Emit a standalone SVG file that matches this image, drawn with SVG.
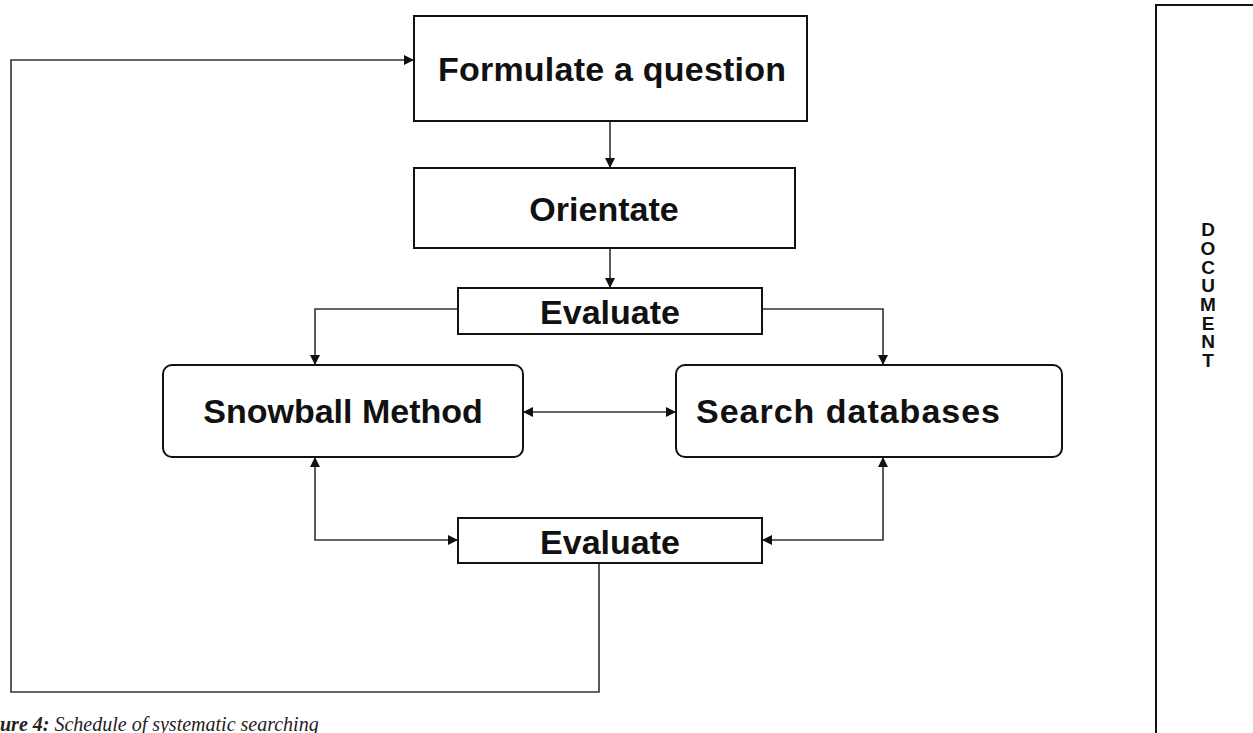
<svg xmlns="http://www.w3.org/2000/svg" width="1253" height="733" viewBox="0 0 1253 733">
<style>
.box{fill:#fff;stroke:#111;stroke-width:2}
.lbl{font-family:"Liberation Sans",Arial,sans-serif;font-weight:bold;font-size:34px;fill:#111;text-anchor:middle}
.doc{font-family:"Liberation Sans",Arial,sans-serif;font-weight:bold;font-size:19px;fill:#111;text-anchor:middle}
.con{fill:none;stroke:#333;stroke-width:1.6}
.cap{font-family:"Liberation Serif","Times New Roman",serif;font-style:italic;font-size:20px;fill:#222}
</style>
<defs>
<marker id="ah" viewBox="0 0 10 10" refX="10" refY="5" markerWidth="10" markerHeight="10" markerUnits="userSpaceOnUse" orient="auto-start-reverse">
<path d="M0,0 L10,5 L0,10 z" fill="#111"/>
</marker>
</defs>
<rect width="1253" height="733" fill="#fff"/>

<g id="connectors">
<line class="con" x1="610" y1="121" x2="610" y2="168" marker-end="url(#ah)"/>
<line class="con" x1="610" y1="248" x2="610" y2="288" marker-end="url(#ah)"/>
<polyline class="con" points="458,309 315,309 315,365" marker-end="url(#ah)"/>
<polyline class="con" points="762,309 883,309 883,365" marker-end="url(#ah)"/>
<line class="con" x1="523" y1="412" x2="676" y2="412" marker-start="url(#ah)" marker-end="url(#ah)"/>
<polyline class="con" points="315,457 315,540 458,540" marker-start="url(#ah)" marker-end="url(#ah)"/>
<polyline class="con" points="883,457 883,540 762,540" marker-start="url(#ah)" marker-end="url(#ah)"/>
<polyline class="con" points="599,563 599,692 11,692 11,60 414,60" marker-end="url(#ah)"/>
</g>

<g id="formulate">
<rect class="box" x="414" y="16" width="393" height="105"/>
<text class="lbl" x="612" y="81" textLength="348" lengthAdjust="spacing">Formulate a question</text>
</g>
<g id="orientate">
<rect class="box" x="414" y="168" width="381" height="80"/>
<text class="lbl" x="604" y="221">Orientate</text>
</g>
<g id="evaluate1">
<rect class="box" x="458" y="288" width="304" height="46"/>
<text class="lbl" x="610" y="324">Evaluate</text>
</g>
<g id="snowball">
<rect class="box" x="163" y="365" width="360" height="92" rx="9" ry="9"/>
<text class="lbl" x="343" y="423">Snowball Method</text>
</g>
<g id="search">
<rect class="box" x="676" y="365" width="386" height="92" rx="9" ry="9"/>
<text class="lbl" x="848" y="423" textLength="304" lengthAdjust="spacing">Search databases</text>
</g>
<g id="evaluate2">
<rect class="box" x="458" y="518" width="304" height="45"/>
<text class="lbl" x="610" y="554">Evaluate</text>
</g>
<g id="document">
<path d="M1156,740 L1156,5 L1260,5" fill="none" stroke="#111" stroke-width="2"/>
<text class="doc" x="1208" y="236">D</text>
<text class="doc" x="1208" y="255">O</text>
<text class="doc" x="1208" y="274">C</text>
<text class="doc" x="1208" y="292">U</text>
<text class="doc" x="1208" y="311">M</text>
<text class="doc" x="1208" y="330">E</text>
<text class="doc" x="1208" y="348">N</text>
<text class="doc" x="1208" y="367">T</text>
</g>
<g id="caption">
<text class="cap" x="0" y="731"><tspan font-weight="bold">ure 4:</tspan> Schedule of systematic searching</text>
</g>
</svg>
